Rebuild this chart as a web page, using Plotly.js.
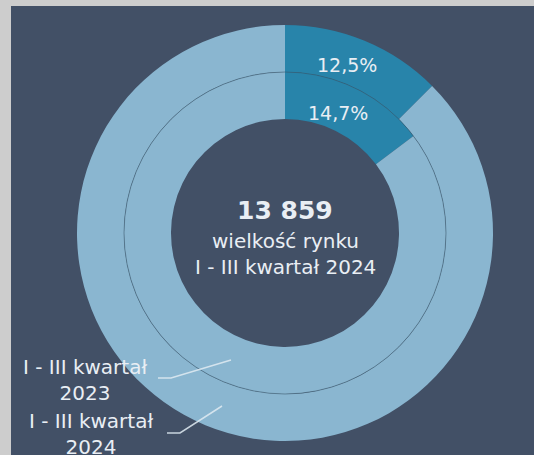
<!DOCTYPE html>
<html>
<head>
<meta charset="utf-8">
<script src="https://cdn.plot.ly/plotly-3.0.1.min.js"></script>
<style>
html,body{margin:0;padding:0;background:#cdcdcd;}
#chart{width:534px;height:455px;}
</style>
</head>
<body>
<div id="chart"></div>
<script>
// ---- data ----
const seriesNames = ["I - III kwartał 2023", "I - III kwartał 2024"];
const sliceLabels = ["udział", "pozostali"];
const values2024 = [12.5, 87.5];   // outer ring
const values2023 = [14.7, 85.3];   // inner ring
const text2024 = ["12,5%", ""];
const text2023 = ["14,7%", ""];
const totalMarket = 13859;
const centerLines = ["wielkość rynku", "I - III kwartał 2024"];

// ---- layout helpers (pixels) ----
const W = 534, H = 455;
const cx = 285, cy = 233;
const R1 = 208, R2 = 161, R3 = 114;
const px = x => x / W;
const py = y => (H - y) / H;

const dark = '#2884aa';
const light = '#8ab6d0';
const txt = '#e9eef4';
const FONT = 'DejaVu Sans, Verdana, sans-serif';

function fmt(n){ return String(n).replace(/\B(?=(\d{3})+(?!\d))/g, ' '); }

function ring(values, labels, name, rOut, rIn){
  return {
    type: 'pie', values: values, labels: labels,
    name: name, sort: false, direction: 'clockwise', rotation: 0,
    hole: rIn / rOut,
    domain: {x: [px(cx - rOut), px(cx + rOut)], y: [py(cy + rOut), py(cy - rOut)]},
    marker: {colors: [dark, light], line: {width: 0}},
    textinfo: 'none',
    hoverinfo: 'skip', showlegend: false
  };
}

// slice label annotations placed at the mid-angle of the slice (derived from values)
function sliceText(values, texts, rOut, rIn){
  const total = values.reduce((a, b) => a + b, 0);
  const out = [];
  let acc = 0;
  values.forEach((v, i) => {
    const mid = (acc + v / 2) / total * 2 * Math.PI;
    acc += v;
    if (!texts[i]) return;
    const rm = (rOut + rIn) / 2 - 3;
    const x = cx + rm * Math.sin(mid) - 7;
    const y = cy - rm * Math.cos(mid);
    out.push({xref: 'paper', yref: 'paper', x: px(x), y: py(y),
      xanchor: 'center', yanchor: 'middle', showarrow: false, text: texts[i],
      font: {family: FONT, size: 19, color: txt}});
  });
  return out;
}

function path(points){
  return points.map((p, i) => (i ? 'L' : 'M') + px(p[0]) + ',' + py(p[1])).join(' ');
}

function note(x, y, text, size, bold){
  return {xref: 'paper', yref: 'paper', x: px(x), y: py(y),
    xanchor: 'center', yanchor: 'middle', showarrow: false,
    text: bold ? '<b>' + text + '</b>' : text,
    font: {family: FONT, size: size, color: txt}};
}

const layout = {
  width: W, height: H,
  margin: {l: 0, r: 0, t: 0, b: 0},
  paper_bgcolor: '#cdcdcd',
  showlegend: false,
  shapes: [
    {type: 'rect', xref: 'paper', yref: 'paper', x0: px(11), x1: 1, y0: 0, y1: py(6),
     fillcolor: '#425066', line: {width: 0}, layer: 'below'},
    {type: 'circle', xref: 'paper', yref: 'paper',
     x0: px(cx - R2), x1: px(cx + R2), y0: py(cy + R2), y1: py(cy - R2),
     line: {color: 'rgba(55,85,105,0.7)', width: 0.8}, layer: 'above'},
    {type: 'path', xref: 'paper', yref: 'paper',
     path: path([[158, 378], [171, 378], [231, 360]]),
     line: {color: 'rgba(225,235,242,0.85)', width: 1.5}, layer: 'above'},
    {type: 'path', xref: 'paper', yref: 'paper',
     path: path([[167, 433], [180, 433], [222, 406]]),
     line: {color: 'rgba(225,235,242,0.85)', width: 1.5}, layer: 'above'}
  ],
  annotations: [
    note(cx, 210, fmt(totalMarket), 25, true),
    note(cx, 241, centerLines[0], 20),
    note(cx, 267, centerLines[1], 20),
    note(85, 380, seriesNames[0].replace(' 2023', '<br>2023'), 20),
    note(91, 434, seriesNames[1].replace(' 2024', '<br>2024'), 20)
  ].concat(sliceText(values2024, text2024, R1, R2), sliceText(values2023, text2023, R2, R3))
};

Plotly.newPlot('chart', [ring(values2024, sliceLabels, seriesNames[1], R1, R2),
                         ring(values2023, sliceLabels, seriesNames[0], R2, R3)],
               layout, {displayModeBar: false, staticPlot: true});
</script>
</body>
</html>
